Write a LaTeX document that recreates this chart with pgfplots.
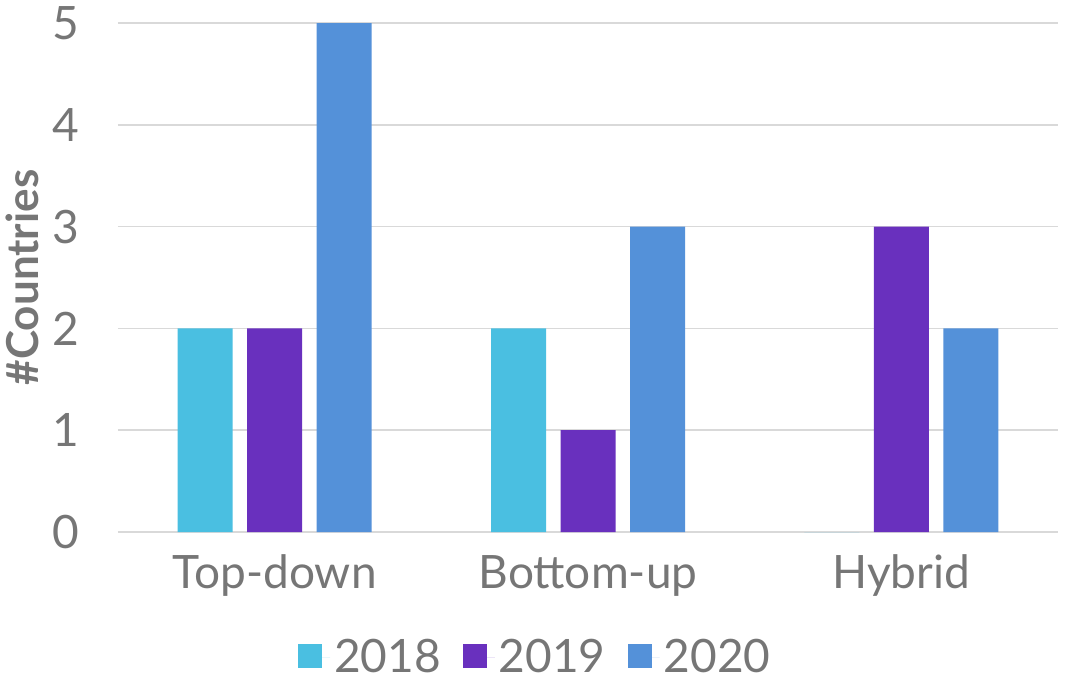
\documentclass[border=0pt]{standalone}
\usepackage{fontspec}
\setmainfont{Lato}
\usepackage{pgfplots}
\pgfplotsset{compat=1.18}
\definecolor{cA}{HTML}{4ABFE1}
\definecolor{cB}{HTML}{6930BE}
\definecolor{cC}{HTML}{5491D9}
\definecolor{txt}{HTML}{767676}
\definecolor{grd}{HTML}{D9D9D9}
\begin{document}
\begin{tikzpicture}
\useasboundingbox (-59pt,-74pt) rectangle (474pt,266pt);
\begin{axis}[
  at={(0pt,0pt)}, anchor=south west,
  scale only axis, width=470pt, height=254.5pt,
  ybar=7.25pt, bar width=27.5pt,
  xmin=-0.5, xmax=2.5, ymin=0, ymax=5,
  xtick={0,1,2}, xticklabels={Top-down,Bottom-up,Hybrid},
  ytick={0,1,2,3,4,5},
  axis line style={draw=none},
  major tick length=0pt,
  ymajorgrids, grid style={grd, line width=0.8pt},
  tick label style={font=\fontsize{23pt}{26pt}\selectfont, text=txt},
  /pgf/number format/assume math mode=true,
  yticklabel style={xshift=-16pt},
  xticklabel style={yshift=-8pt},
  ylabel={\textbf{\#Countries}},
  ylabel style={font=\fontsize{22pt}{25pt}\selectfont\bfseries, text=txt, yshift=0pt},
  legend style={draw=none, fill=none, at={(0.445,-0.246)}, anchor=center,
    legend columns=3, font=\fontsize{23pt}{26pt}\selectfont, text=txt,
    /tikz/every even column/.append style={column sep=9pt}},
  legend image code/.code={\fill[#1] (0pt,-5.5pt) rectangle (12pt,6.5pt); \path (12pt,0pt) -- (16pt,0pt);},
]
\addplot[fill=cA, draw=none] coordinates {(0,2) (1,2) (2,0)};
\addplot[fill=cB, draw=none] coordinates {(0,2) (1,1) (2,3)};
\addplot[fill=cC, draw=none] coordinates {(0,5) (1,3) (2,2)};
\legend{2018,2019,2020}
\end{axis}
\end{tikzpicture}
\end{document}
